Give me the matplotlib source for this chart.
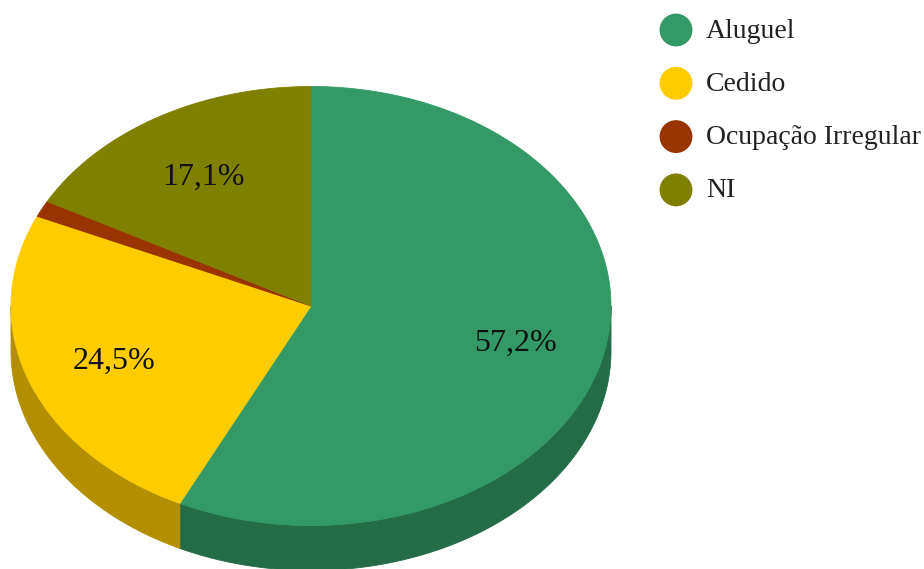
import numpy as np
import matplotlib.pyplot as plt
from matplotlib.patches import Polygon
from matplotlib.colors import to_rgb

labels = ['Aluguel', 'Cedido', 'Ocupação Irregular', 'NI']
values = [57.2, 24.5, 1.2, 17.1]
colors = ['#339966', '#ffcc00', '#993300', '#808000']
pct_text = ['57,2%', '24,5%', '', '17,1%']

plt.rcParams['font.family'] = ['Liberation Serif', 'DejaVu Serif']

W, H = 924, 569
fig = plt.figure(figsize=(W / 100, H / 100), dpi=100)
ax = fig.add_axes([0, 0, 1, 1])
ax.set_xlim(0, W)
ax.set_ylim(H, 0)
ax.axis('off')

# ellipse geometry (pixel space, y down)
cx, cy = 311, 306
rx, ry = 300, 219.5
depth = 45


def pt(theta, r=1.0, dy=0.0):
    # theta measured clockwise from 12 o'clock
    return cx + r * rx * np.sin(theta), cy - r * ry * np.cos(theta) + dy


def darker(c, f=0.7):
    return tuple(v * f for v in to_rgb(c))


total = sum(values)
bounds = np.concatenate([[0], np.cumsum(values)]) / total * 2 * np.pi

# side walls (front half only: pi/2 .. 3pi/2)
for i, c in enumerate(colors):
    a = max(bounds[i], np.pi / 2)
    b = min(bounds[i + 1], 3 * np.pi / 2)
    if b <= a:
        continue
    t = np.linspace(a, b, 200)
    xs, ys = pt(t)
    xb, yb = pt(t[::-1], dy=depth)
    poly = np.column_stack([np.concatenate([xs, xb]), np.concatenate([ys, yb])])
    ax.add_patch(Polygon(poly, closed=True, facecolor=darker(c),
                         edgecolor=darker(c), linewidth=0.6, zorder=1))

# top face
for i, c in enumerate(colors):
    t = np.linspace(bounds[i], bounds[i + 1], max(4, int(400 * values[i] / total)))
    xs, ys = pt(t)
    poly = np.column_stack([np.concatenate([[cx], xs]), np.concatenate([[cy], ys])])
    ax.add_patch(Polygon(poly, closed=True, facecolor=c, edgecolor=c,
                         linewidth=0.6, zorder=2))

# slice labels
for i, txt in enumerate(pct_text):
    if not txt:
        continue
    mid = (bounds[i] + bounds[i + 1]) / 2
    x, y = pt(mid, r=0.7)
    ax.text(x, y + 3, txt, ha='center', va='center', fontsize=23,
            color='#111111', zorder=3)

# legend
for i, (lab, c) in enumerate(zip(labels, colors)):
    y = 30 + i * 53.3
    ax.scatter([676], [y], s=560, color=c, edgecolors='none', zorder=3)
    ax.text(706, y + 1, lab, ha='left', va='center', fontsize=20,
            color='#222222', zorder=3)

fig.savefig('out.png', dpi=100)
